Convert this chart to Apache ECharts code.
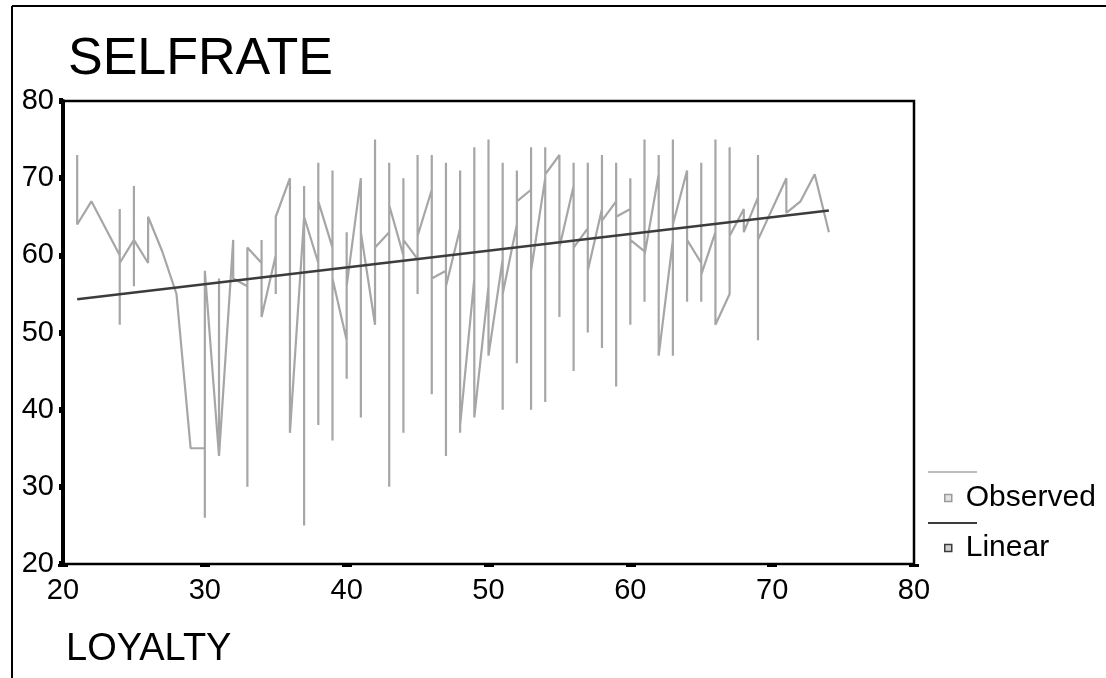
<!DOCTYPE html>
<html>
<head>
<meta charset="utf-8">
<script src="https://cdn.jsdelivr.net/npm/echarts@6/dist/echarts.min.js"></script>
<style>
  html, body { margin: 0; padding: 0; background: #ffffff; }
  #chart { width: 1106px; height: 678px; }
</style>
</head>
<body>
<div id="chart"></div>
<script>
// Axis ticks
const xTicks = [20, 30, 40, 50, 60, 70, 80];
const yTicks = [20, 30, 40, 50, 60, 70, 80];

// Observed cases, in plotting order (sorted by LOYALTY)
const loyalty = [
  21, 21, 22, 24, 24, 24, 24, 25, 25, 25, 25, 26, 26, 27, 28, 29,
  30, 30, 30, 31, 31, 31, 32, 32, 33, 33, 33, 34, 34, 34, 35, 35, 35,
  36, 36, 37, 37, 37, 37, 38, 38, 38, 38, 39, 39, 39, 39,
  40, 40, 40, 40, 41, 41, 41, 42, 42, 42, 43, 43, 43, 43,
  44, 44, 44, 44, 45, 45, 45, 45, 46, 46, 46, 46, 47, 47, 47, 47,
  48, 48, 48, 48, 49, 49, 49, 50, 50, 50, 51, 51, 51, 51,
  52, 52, 52, 52, 53, 53, 53, 53, 54, 54, 54, 54, 55, 55, 55,
  56, 56, 56, 56, 57, 57, 57, 57, 58, 58, 58, 58, 59, 59, 59, 59,
  60, 60, 60, 60, 61, 61, 61, 61, 62, 62, 62, 63, 63, 63, 63,
  64, 64, 64, 65, 65, 65, 65, 66, 66, 66, 67, 67, 67, 68, 68,
  69, 69, 69, 69, 71, 71, 72, 73, 74
];
const selfrate = [
  73, 64, 67, 60, 66, 51, 59, 62, 69, 56, 62, 59, 65, 60.5, 55, 35,
  35, 26, 58, 34, 57, 34, 62, 57, 56, 30, 61, 59, 62, 52, 60, 55, 65,
  70, 37, 65, 69, 25, 65, 59, 72, 38, 67, 61, 71, 36, 57,
  49, 63, 44, 56, 70, 39, 63, 51, 75, 61, 63, 72, 30, 66.5,
  60, 70, 37, 62, 59.5, 73, 55, 62.5, 68.5, 73, 42, 57, 58, 72, 34, 56,
  63.5, 71, 37, 38, 57, 74, 39, 56, 75, 47, 59.5, 72, 40, 55,
  64, 71, 46, 67, 68.5, 74, 40, 58, 70, 74, 41, 70.5, 73, 52, 61,
  69, 72, 45, 61, 63.5, 72, 50, 58, 66, 73, 48, 64.5, 67, 72, 43, 65,
  66, 70, 51, 62, 60.5, 75, 54, 60, 70.5, 73, 47, 62, 75, 47, 64,
  71, 54, 62, 59, 72, 54, 57.5, 63, 75, 51, 55, 74, 62.5, 66, 63,
  67.5, 73, 49, 62, 70, 65.5, 67, 70.5, 63
];

// Linear fit, at the lowest and highest LOYALTY
const linearLoyalty = [21, 74];
const linearSelfrate = [54.3, 65.8];

const FONT = '"Liberation Sans", Arial, Helvetica, sans-serif';
const OBS_COLOR = '#a6a6a6';
const LIN_COLOR = '#3c3c3c';

const observed = loyalty.map((x, i) => [x, selfrate[i]]);
const linear = linearLoyalty.map((x, i) => [x, linearSelfrate[i]]);

const chart = echarts.init(document.getElementById('chart'), null, { renderer: 'canvas' });

chart.setOption({
  backgroundColor: '#ffffff',
  animation: false,
  title: [
    {
      text: 'SELFRATE', left: 63, top: 29,
      textStyle: { fontFamily: FONT, fontSize: 52, fontWeight: 'normal', color: '#000' }
    },
    {
      text: 'LOYALTY', left: 61, top: 626,
      textStyle: { fontFamily: FONT, fontSize: 38, fontWeight: 'normal', color: '#000' }
    }
  ],
  legend: {
    orient: 'vertical',
    left: 939, top: 478,
    icon: 'rect',
    itemWidth: 7, itemHeight: 7,
    itemGap: 20,
    textStyle: { fontFamily: FONT, fontSize: 30, color: '#000', padding: [0, 0, 0, 9] },
    data: [
      { name: 'Observed', itemStyle: { color: '#e2e2e2', borderColor: '#9a9a9a', borderWidth: 1.5 } },
      { name: 'Linear', itemStyle: { color: '#d0d0d0', borderColor: '#3c3c3c', borderWidth: 1.5 } }
    ]
  },
  grid: {
    left: 63, right: 192, top: 101, bottom: 114,
    show: true, backgroundColor: '#ffffff', borderColor: '#000', borderWidth: 2.5
  },
  xAxis: {
    type: 'value',
    min: xTicks[0], max: xTicks[xTicks.length - 1], interval: xTicks[1] - xTicks[0],
    axisLine: { show: true, onZero: false, lineStyle: { color: '#000', width: 2 } },
    axisTick: { show: true, length: 3, lineStyle: { color: '#000', width: 10 } },
    splitLine: { show: false },
    axisLabel: { fontFamily: FONT, fontSize: 29, color: '#000', margin: 12 }
  },
  yAxis: {
    type: 'value',
    min: yTicks[0], max: yTicks[yTicks.length - 1], interval: yTicks[1] - yTicks[0],
    axisLine: { show: true, onZero: false, lineStyle: { color: '#000', width: 4 } },
    axisTick: { show: true, length: 4, lineStyle: { color: '#000', width: 6 } },
    splitLine: { show: false },
    axisLabel: { fontFamily: FONT, fontSize: 29, color: '#000', margin: 9 }
  },
  series: [
    {
      name: 'Observed', type: 'line', data: observed,
      showSymbol: false, symbol: 'none',
      lineStyle: { color: OBS_COLOR, width: 2.2 },
      itemStyle: { color: OBS_COLOR },
      z: 2
    },
    {
      name: 'Linear', type: 'line', data: linear,
      showSymbol: false, symbol: 'none',
      lineStyle: { color: LIN_COLOR, width: 2.5 },
      itemStyle: { color: LIN_COLOR },
      z: 3
    }
  ],
  graphic: [
    // page frame
    { type: 'line', shape: { x1: 12, y1: 6, x2: 1106, y2: 6 }, style: { stroke: '#000', lineWidth: 2 } },
    { type: 'line', shape: { x1: 12, y1: 6, x2: 12, y2: 678 }, style: { stroke: '#000', lineWidth: 2 } },
    // legend line samples
    { type: 'line', shape: { x1: 928, y1: 472, x2: 977, y2: 472 }, style: { stroke: OBS_COLOR, lineWidth: 1.5 } },
    { type: 'line', shape: { x1: 928, y1: 523, x2: 977, y2: 523 }, style: { stroke: LIN_COLOR, lineWidth: 2 } }
  ]
});
</script>
</body>
</html>
